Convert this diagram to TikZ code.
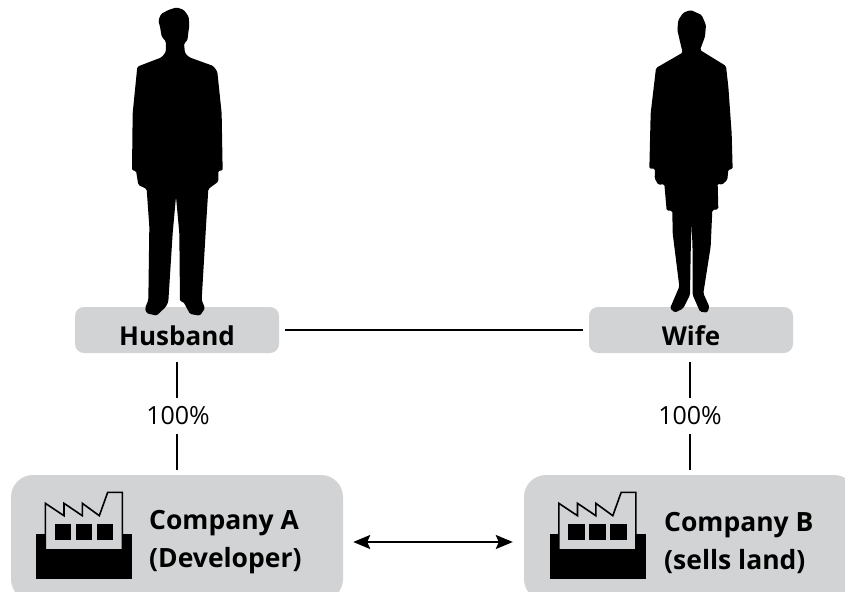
\documentclass[tikz,border=0pt]{standalone}
\usepackage{fontspec}
\setmainfont{Open Sans}
\usetikzlibrary{arrows.meta}
\definecolor{boxgrey}{HTML}{D1D3D4}
\tikzset{
  person/.style={rounded corners=1.5pt, fill=black, draw=none},
  namebox/.style={fill=boxgrey, rounded corners=9pt, minimum width=204pt, minimum height=46pt,
    font=\fontsize{26}{30}\selectfont\bfseries, text height=30pt, text depth=0pt, inner ysep=0pt},
  companybox/.style={fill=boxgrey, rounded corners=22pt, minimum width=332pt, minimum height=126pt},
  companytext/.style={anchor=west, align=left, inner sep=0pt, font=\fontsize{26.5}{38}\selectfont\bfseries},
  share/.style={font=\fontsize{25}{28}\selectfont, inner sep=0pt, minimum height=36pt},
  link/.style={line width=2pt},
  factory/.pic={
    \fill[black] (0,0) rectangle (96.3,44.7);
    \filldraw[fill=boxgrey, draw=black, line width=1.6pt] (9.3,-31) -- (9.3,15.7) -- (86.3,15.7) -- (86.3,-42)
      -- (71.7,-42) -- (63.3,-18.6) -- (46.3,-31) -- (46.3,-18.6) -- (28,-31) -- (28,-18.6) -- cycle;
    \fill[black] (18.7,-10) rectangle (35.3,5.7);
    \fill[black] (39.7,-10) rectangle (56.3,5.7);
    \fill[black] (60.7,-10) rectangle (77.3,5.7);
  }
}
\begin{document}
\begin{tikzpicture}[x=1pt, y=-1pt]
  \useasboundingbox (0,0) rectangle (845,591);
  \clip (0,0) rectangle (845,591);
  % boxes
  \node[namebox] (husband) at (177,330) {Husband};
  \node[namebox] (wife) at (691,330) {Wife};
  \node[companybox] (companya) at (177,538) {};
  \node[companybox] (companyb) at (690,538) {};
  \node[companytext] (labela) at (149,542.5) {Company A\\(Developer)};
  \node[companytext] (labelb) at (664,542.5) {Company B\\(sells land)};
  \pic at (36,534.3) {factory};
  \pic at (549.5,534.3) {factory};
  % people
  \fill[person, shift={(100,0)}, x=0.3333pt, y=-0.3333pt] (230,22) -- (252,30) -- (266,50) -- (268,75) -- (262,122) -- (252,130)
    -- (255,160) -- (268,172) -- (340,198) -- (352,215) -- (365,340) -- (368,512) -- (355,512) -- (355,545)
    -- (325,567) -- (318,680) -- (305,900) -- (315,925) -- (300,947) -- (270,942) -- (250,905) -- (240,905)
    -- (238,700) -- (228,590) -- (218,700) -- (205,905) -- (198,920) -- (170,947) -- (140,940) -- (135,925)
    -- (145,900) -- (148,680) -- (140,567) -- (115,555) -- (108,512) -- (96,512) -- (98,340) -- (112,200)
    -- (185,172) -- (198,155) -- (198,125) -- (185,110) -- (180,80) -- (175,62) -- (183,42) -- (205,30) -- cycle;
  \fill[person, shift={(620,0)}, x=0.3333pt, y=-0.3333pt] (212,30) -- (245,45) -- (258,75) -- (255,110) -- (240,150)
    -- (318,198) -- (325,260) -- (335,400) -- (338,508) -- (325,508) -- (322,540) -- (305,555) -- (293,550)
    -- (295,628) -- (277,630) -- (272,740) -- (250,880) -- (268,920) -- (262,938) -- (240,935) -- (218,885)
    -- (218,760) -- (215,665) -- (212,760) -- (210,885) -- (190,925) -- (165,938) -- (150,925) -- (178,860)
    -- (158,700) -- (157,632) -- (140,632) -- (133,552) -- (115,555) -- (104,535) -- (105,506) -- (88,506)
    -- (92,340) -- (108,204) -- (188,158) -- (180,125) -- (172,90) -- (175,60) -- (190,38) -- cycle;
  % shares
  \node[share] (sharea) at (178,416) {100\%};
  \node[share] (shareb) at (690,416) {100\%};
  \draw[link, shorten <=9pt] (husband.south) -- (husband.south |- sharea.north);
  \draw[link, shorten >=5pt] (husband.south |- sharea.south) -- (companya.north);
  \draw[link, shorten <=9pt] (wife.south -| shareb) -- (shareb);
  \draw[link, shorten >=5pt] (shareb) -- (companyb);
  \draw[link, shorten <=6pt, shorten >=6pt] (husband) -- (wife);
  \draw[link, {Stealth[length=17pt,width=14pt,inset=3pt]}-{Stealth[length=17pt,width=14pt,inset=3pt]}, shorten <=10pt, shorten >=11pt] (companya.east |- 0,542) -- (companyb.west |- 0,542);
\end{tikzpicture}
\end{document}
